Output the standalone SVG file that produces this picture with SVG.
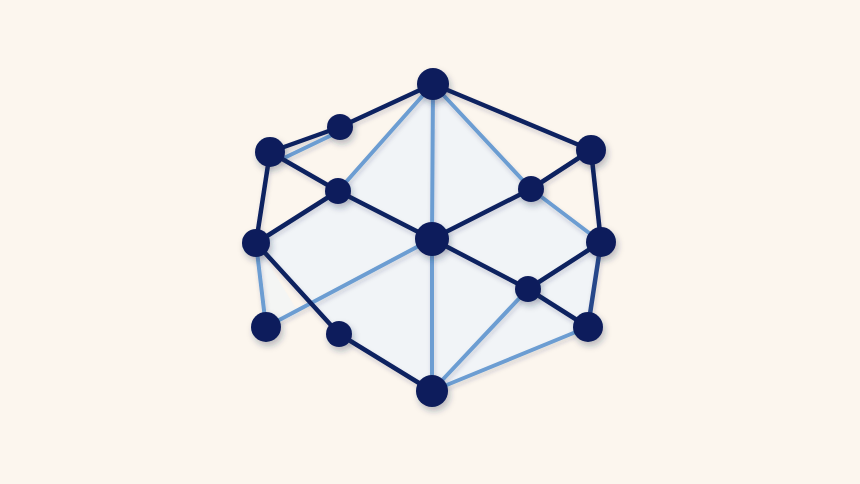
<svg xmlns="http://www.w3.org/2000/svg" width="860" height="484" viewBox="0 0 860 484">
<defs>
<filter id="sh" x="-50%" y="-50%" width="200%" height="200%">
<feDropShadow dx="2" dy="4" stdDeviation="3" flood-color="#1a2a50" flood-opacity="0.3"/>
</filter>
<filter id="lsh" x="-20%" y="-20%" width="140%" height="140%">
<feDropShadow dx="1" dy="3" stdDeviation="2" flood-color="#1a2a50" flood-opacity="0.18"/>
</filter>
<style>
.dk{stroke:#0f2160;stroke-width:4.5;stroke-linecap:round;fill:none}
.lt{stroke:#6c9dd2;stroke-width:4;stroke-linecap:round;fill:none}
.md{stroke:#28468a;stroke-width:4.5;stroke-linecap:round;fill:none}
.n{fill:#0b1d5c}
</style>
</defs>
<rect width="860" height="484" fill="#fcf6ee"/>
<g id="fill">
<polygon points="338,191 433,84 531,189 601,242 588,327 432,391 339,334 256,243" fill="#f1f4f7"/>
<polygon points="256,243 266,327 300,315" fill="#f4f5f4"/>
</g>
<g id="connectors" filter="url(#lsh)">
<line class="lt" x1="284" y1="158" x2="334" y2="134"/>
<line class="lt" x1="338" y1="191" x2="433" y2="84"/>
<line class="lt" x1="433" y1="84" x2="432" y2="239"/>
<line class="lt" x1="433" y1="84" x2="531" y2="189"/>
<line class="lt" x1="531" y1="189" x2="601" y2="242"/>
<line class="lt" x1="432" y1="239" x2="432" y2="391"/>
<line class="lt" x1="432" y1="239" x2="266" y2="327"/>
<line class="lt" x1="256" y1="243" x2="266" y2="327"/>
<line class="lt" x1="528" y1="289" x2="432" y2="391"/>
<line class="lt" x1="588" y1="327" x2="432" y2="391"/>
<line class="md" x1="601" y1="242" x2="588" y2="327"/>
<line class="dk" x1="433" y1="84" x2="340" y2="127"/>
<line class="dk" x1="340" y1="127" x2="270" y2="152"/>
<line class="dk" x1="270" y1="152" x2="338" y2="191"/>
<line class="dk" x1="338" y1="191" x2="432" y2="239"/>
<line class="dk" x1="270" y1="152" x2="256" y2="243"/>
<line class="dk" x1="256" y1="243" x2="338" y2="191"/>
<line class="dk" x1="433" y1="84" x2="591" y2="150"/>
<line class="dk" x1="591" y1="150" x2="531" y2="189"/>
<line class="dk" x1="531" y1="189" x2="432" y2="239"/>
<line class="dk" x1="591" y1="150" x2="601" y2="242"/>
<line class="dk" x1="601" y1="242" x2="528" y2="289"/>
<line class="dk" x1="528" y1="289" x2="432" y2="239"/>
<line class="dk" x1="528" y1="289" x2="588" y2="327"/>
<line class="dk" x1="256" y1="243" x2="339" y2="334"/>
<line class="dk" x1="339" y1="334" x2="432" y2="391"/>
</g>
<g filter="url(#sh)">
<g id="n-top"><circle class="n" cx="433" cy="84" r="16"/></g>
<g id="n-a"><circle class="n" cx="340" cy="127" r="13"/></g>
<g id="n-b"><circle class="n" cx="270" cy="152" r="15"/></g>
<g id="n-c"><circle class="n" cx="338" cy="191" r="13"/></g>
<g id="n-d"><circle class="n" cx="256" cy="243" r="14"/></g>
<g id="n-center"><circle class="n" cx="432" cy="239" r="17"/></g>
<g id="n-f"><circle class="n" cx="531" cy="189" r="13"/></g>
<g id="n-g"><circle class="n" cx="591" cy="150" r="15"/></g>
<g id="n-h"><circle class="n" cx="601" cy="242" r="15"/></g>
<g id="n-i"><circle class="n" cx="528" cy="289" r="13"/></g>
<g id="n-j"><circle class="n" cx="588" cy="327" r="15"/></g>
<g id="n-k"><circle class="n" cx="266" cy="327" r="15"/></g>
<g id="n-l"><circle class="n" cx="339" cy="334" r="13"/></g>
<g id="n-bottom"><circle class="n" cx="432" cy="391" r="16"/></g>
</g>
</svg>
